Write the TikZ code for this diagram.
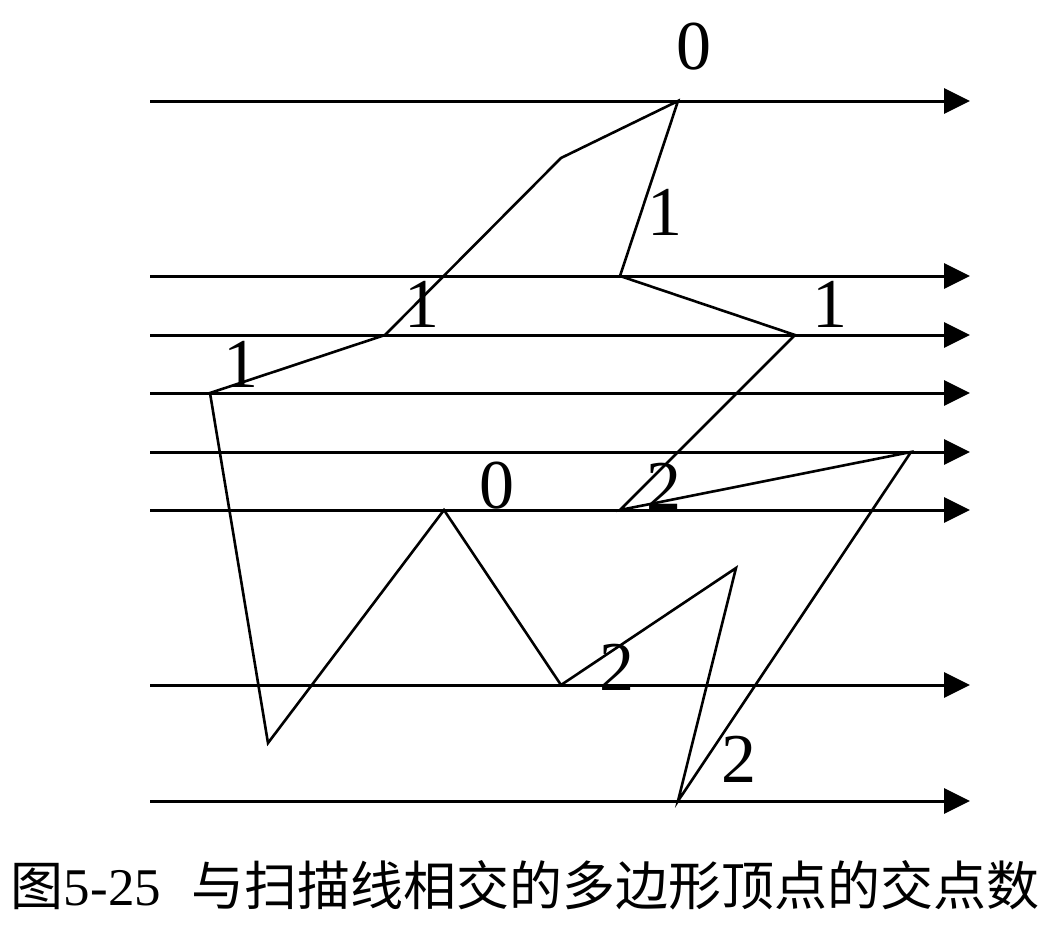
\documentclass[tikz,border=0pt]{standalone}
\usepackage{fontspec}
\setmainfont{Liberation Serif}
\newfontfamily\cjk{Noto Sans CJK SC}
\usetikzlibrary{arrows.meta}
\tikzset{
  scanline/.style={line width=3pt,-{Triangle[length=26pt,width=25pt]}},
  polyedge/.style={line width=2.6pt,line join=miter},
  cnt/.style={inner sep=0pt,font=\fontsize{70}{70}\selectfont},
  captxt/.style={inner sep=0pt,font=\fontsize{53}{53}\selectfont}
}
\begin{document}
\begin{tikzpicture}[x=1pt,y=-1pt]
\useasboundingbox (0,0) rectangle (1047,951);
% scan lines
\foreach \i/\yy in {1/101,2/276,3/335,4/393,5/452,6/510,7/685,8/801}{
  \coordinate (L\i) at (150,\yy);
  \coordinate (R\i) at (970,\yy);
  \draw[scanline] (L\i) -- (R\i);
}
% polygon vertices
\coordinate (v1) at (678,101);
\coordinate (v2) at (561,158);
\coordinate (v3) at (385,335);
\coordinate (v4) at (210,393);
\coordinate (v5) at (268,743);
\coordinate (v6) at (444,510);
\coordinate (v7) at (561,685);
\coordinate (v8) at (736,568);
\coordinate (v9) at (678,801);
\coordinate (v10) at (911,452);
\coordinate (v11) at (620,510);
\coordinate (v12) at (795,335);
\coordinate (v13) at (620,276);
\draw[polyedge] (v1) -- (v2) -- (v3) -- (v4) -- (v5) -- (v6) -- (v7) -- (v8) -- (v9) -- (v10) -- (v11) -- (v12) -- (v13) -- cycle;
% counts
\node[cnt] (c1) at (694,47) {0};
\node[cnt] (c2) at (665,212) {1};
\node[cnt] (c3) at (830,304) {1};
\node[cnt] (c4) at (422,304) {1};
\node[cnt] (c5) at (241,364) {1};
\node[cnt] (c6) at (497,486) {0};
\node[cnt] (c7) at (664,486) {2};
\node[cnt] (c8) at (617,667) {2};
\node[cnt] (c9) at (739,759) {2};
% caption
\node[captxt] (cap) at (525,885) {{\cjk 图}5-25\hspace{30pt}{\cjk 与扫描线相交的多边形顶点的交点数}};
\end{tikzpicture}
\end{document}
